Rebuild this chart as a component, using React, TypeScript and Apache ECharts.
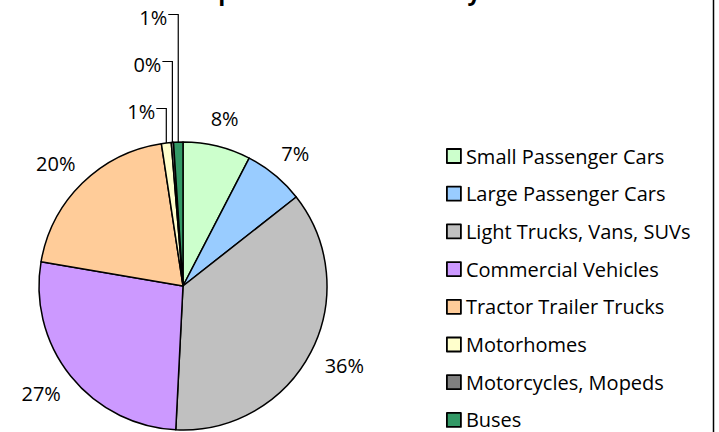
import React, { useEffect, useRef } from 'react';
import * as echarts from 'echarts';

const titleText = 'Percent of Transportation Emissions by Vehicle Class';
const categories = [
  'Small Passenger Cars',
  'Large Passenger Cars',
  'Light Trucks, Vans, SUVs',
  'Commercial Vehicles',
  'Tractor Trailer Trucks',
  'Motorhomes',
  'Motorcycles, Mopeds',
  'Buses',
];
const shares = [7.6, 6.8, 36.4, 26.9, 19.9, 1.1, 0.25, 1.05];
const colors = ['#CCFFCC', '#99CCFF', '#C0C0C0', '#CC99FF', '#FFCC99', '#FFFFCC', '#808080', '#339966'];

const W = 719;
const H = 432;
const CX = 183;
const CY = 286;
const R = 144;
const FONT = '"Open Sans", Lato, sans-serif';

export default function App() {
  const ref = useRef<HTMLDivElement>(null);

  useEffect(() => {
    if (!ref.current) return;
    const chart = echarts.init(ref.current, undefined, { renderer: 'svg' });

    const total = shares.reduce((a, b) => a + b, 0);
    const cum: number[] = [];
    let acc = 0;
    shares.forEach((v) => {
      cum.push(acc);
      acc += v;
    });
    const midAngle = (i: number) => ((cum[i] + shares[i] / 2) / total) * 2 * Math.PI;
    const isSmall = (i: number) => (shares[i] / total) * 100 < 2;
    const smallIdx = shares.map((_, i) => (isSmall(i) ? i : -1)).filter((i) => i >= 0);

    chart.setOption({
      animation: false,
      graphic: [
        {
          type: 'text',
          left: 30,
          top: -21,
          style: {
            text: titleText,
            font: `bold 23px ${FONT}`,
            fill: '#000',
          },
        },
        {
          type: 'line',
          shape: { x1: 713.5, y1: 0, x2: 713.5, y2: H },
          style: { stroke: '#000', lineWidth: 1.5 },
        },
      ],
      legend: {
        orient: 'vertical',
        left: 446,
        top: 146,
        padding: 0,
        itemWidth: 14,
        itemHeight: 14,
        itemGap: 17.7,
        icon: 'rect',
        selectedMode: false,
        itemStyle: { borderColor: '#000', borderWidth: 1.8 },
        textStyle: { fontFamily: FONT, fontSize: 20, lineHeight: 20, color: '#000' },
        data: categories,
      },
      series: [
        {
          type: 'pie',
          center: [CX, CY],
          radius: R,
          startAngle: 90,
          clockwise: true,
          avoidLabelOverlap: false,
          emphasis: { disabled: true },
          itemStyle: { borderColor: '#000', borderWidth: 1.5 },
          label: {
            show: true,
            position: 'outside',
            fontFamily: FONT,
            fontSize: 20,
            color: '#000',
            formatter: (p: any) => `${Math.round(p.percent)}%`,
          },
          labelLine: { show: false },
          labelLayout: (p: any) => {
            const i = p.dataIndex;
            const a = midAngle(i);
            const s = Math.sin(a);
            const c = Math.cos(a);
            const k = smallIdx.indexOf(i);
            if (k >= 0) {
              const ax = CX + R * s;
              const ay = CY - R * c;
              const ly = CY - R - 31 - k * 47;
              return {
                x: ax - 11,
                y: ly,
                align: 'right',
                verticalAlign: 'middle',
                labelLinePoints: [
                  [ax - 10, ly - 2.5],
                  [ax, ly - 2.5],
                  [ax, ay],
                ],
              };
            }
            const w = p.labelRect.width;
            const h = p.labelRect.height;
            const d = R + 18;
            return {
              x: CX + d * s + (w / 2) * s,
              y: CY - d * c - (h / 2) * c,
              align: 'center',
              verticalAlign: 'middle',
            };
          },
          data: categories.map((name, i) => ({
            name,
            value: shares[i],
            itemStyle: { color: colors[i] },
            labelLine: {
              show: isSmall(i),
              lineStyle: { color: '#000', width: 1.2 },
            },
          })),
        },
      ],
    });

    return () => chart.dispose();
  }, []);

  return (
    <div
      ref={ref}
      style={{ position: 'fixed', left: 0, top: 0, width: W, height: H, background: '#fff' }}
    />
  );
}
